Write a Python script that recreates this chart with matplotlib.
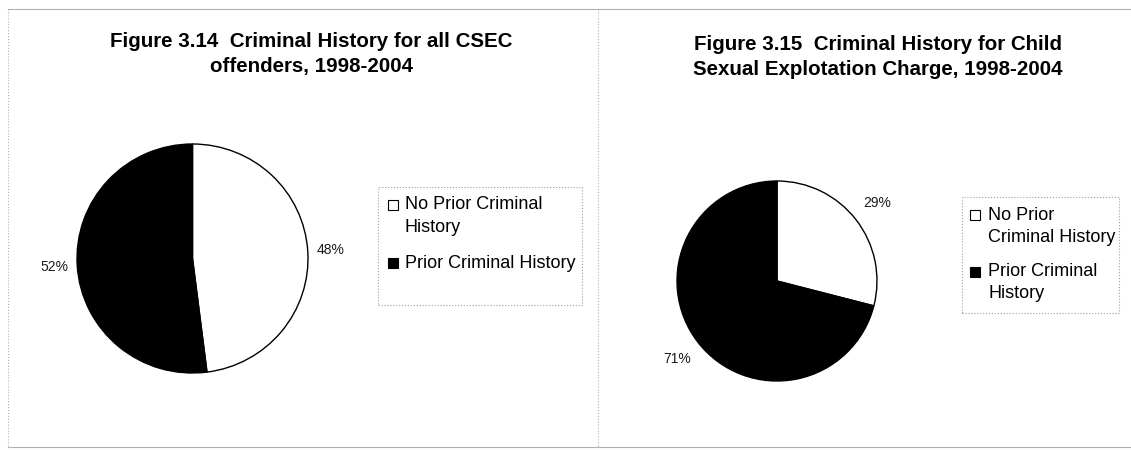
import matplotlib.pyplot as plt
from matplotlib.patches import Rectangle
from matplotlib.lines import Line2D

# %% Data

categories = ["No Prior Criminal History", "Prior Criminal History"]
share_all = [48, 52]
share_child = [29, 71]

title_all = "Figure 3.14  Criminal History for all CSEC\noffenders, 1998-2004"
title_child = "Figure 3.15  Criminal History for Child\nSexual Explotation Charge, 1998-2004"
legend_all = ["No Prior Criminal\nHistory", "Prior Criminal History"]
legend_child = ["No Prior\nCriminal History", "Prior Criminal\nHistory"]

colors = ["white", "black"]

# %% Figure

plt.rcParams["font.family"] = ["Liberation Sans", "DejaVu Sans"]

W, H = 1131, 450
fig = plt.figure(figsize=(W / 100, H / 100), dpi=100)


def fx(x):
    return x / W


def fy(y):
    return 1 - y / H


def px_axes(x0, y0, x1, y1):
    # pixel box (top-left origin) -> figure axes
    return fig.add_axes([fx(x0), fy(y1), (x1 - x0) / W, (y1 - y0) / H])


def draw_pie(ax, values, pct_dist):
    ax.pie(
        values,
        colors=colors,
        startangle=90,
        counterclock=False,
        autopct=lambda p: f"{p:.0f}%",
        pctdistance=pct_dist,
        wedgeprops={"edgecolor": "black", "linewidth": 1.0},
        textprops={"fontsize": 10, "color": "#1a1a1a"},
    )
    ax.set_xlim(-1, 1)
    ax.set_ylim(-1, 1)
    ax.set_aspect("auto")
    ax.axis("off")


def draw_legend(box, labels, marker_x, text_x, line_ys):
    x0, y0, x1, y1 = box
    fig.add_artist(Rectangle((fx(x0), fy(y1)), (x1 - x0) / W, (y1 - y0) / H,
                             transform=fig.transFigure, facecolor="white",
                             edgecolor="#a0a0a0", linewidth=0.8, linestyle=":"))
    for label, color, ys in zip(labels, colors, line_ys):
        s = 10
        fig.add_artist(Rectangle((fx(marker_x - s / 2), fy(ys[0] + s / 2)), s / W, s / H,
                                 transform=fig.transFigure, facecolor=color,
                                 edgecolor="black", linewidth=0.8))
        for line, y in zip(label.split("\n"), ys):
            fig.text(fx(text_x), fy(y), line, ha="left", va="center", fontsize=13)


# panel borders
border_kw = dict(color="#b0b0b0", linewidth=0.8, transform=fig.transFigure)
fig.add_artist(Line2D([fx(8), 1], [fy(9), fy(9)], **border_kw))
fig.add_artist(Line2D([fx(8), 1], [fy(447), fy(447)], **border_kw))
for x in [8, 598]:
    fig.add_artist(Line2D([fx(x), fx(x)], [fy(9), fy(447)], linestyle=":", **border_kw))

# left pie
ax1 = px_axes(77, 144, 308, 373)
draw_pie(ax1, share_all, 1.2)
fig.text(fx(311), fy(54), title_all, ha="center", va="center",
         fontsize=14.8, fontweight="bold", linespacing=1.4)
draw_legend((378, 187, 582, 305), legend_all, 393, 405, [[205, 227], [263]])

# right pie
ax2 = px_axes(677, 181, 877, 381)
draw_pie(ax2, share_child, 1.27)
fig.text(fx(878), fy(57), title_child, ha="center", va="center",
         fontsize=14.8, fontweight="bold", linespacing=1.4)
draw_legend((962, 197, 1119, 313), legend_child, 975, 988, [[215, 238], [272, 294]])

fig.savefig("out.png", dpi=100)
